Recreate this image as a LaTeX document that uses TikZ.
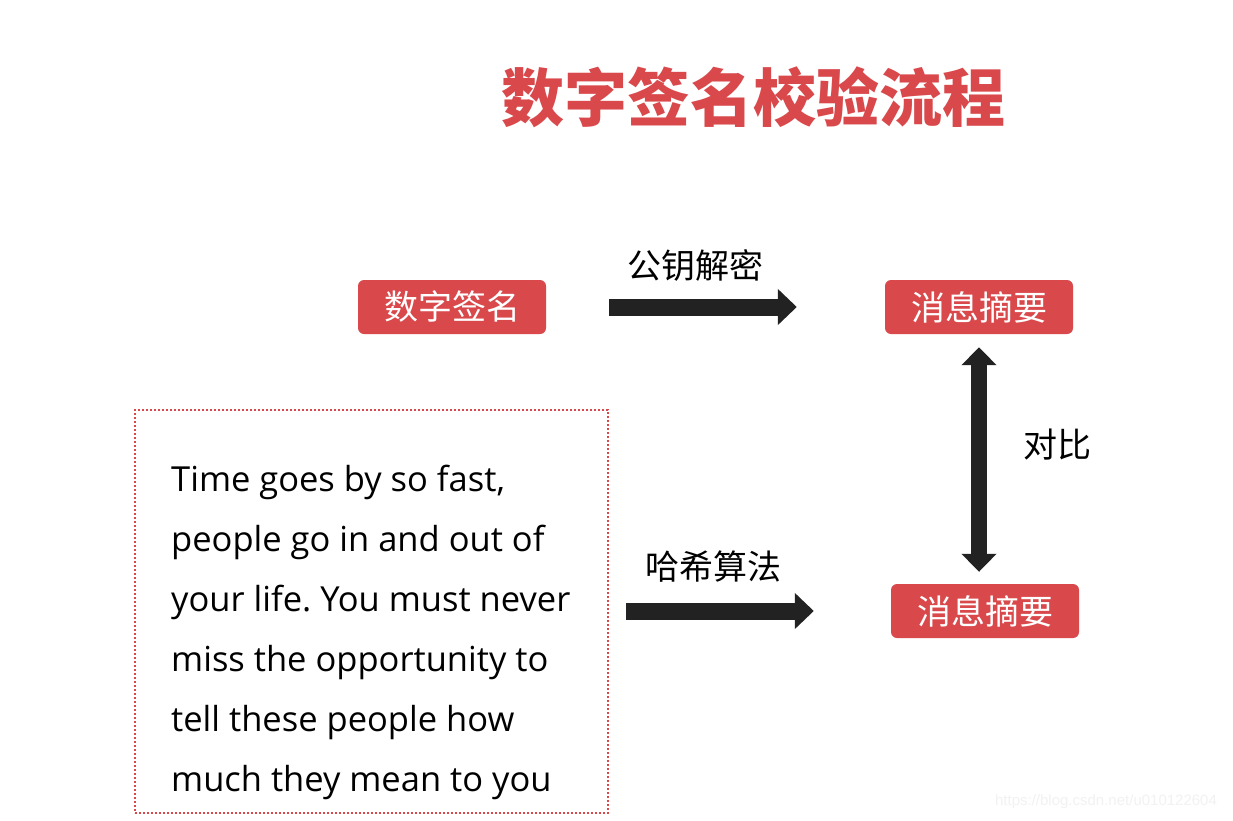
\documentclass[tikz,border=0pt]{standalone}
\usepackage{fontspec}
\setmainfont{Open Sans}
\newfontfamily\cjk{Noto Sans CJK SC}
\usetikzlibrary{positioning,arrows.meta,calc}
\definecolor{slidered}{HTML}{D9484B}
\definecolor{arrowdark}{HTML}{222222}
\frenchspacing
\tikzset{
  redbox/.style={fill=slidered, rounded corners=6pt, minimum width=188pt, minimum height=54pt,
    inner sep=0pt, text=white, font=\cjk\fontsize{34}{34}\selectfont},
  fatarrow/.style={draw=arrowdark, line width=17pt, -{Triangle[width=35pt,length=19pt]}},
  fatboth/.style={draw=arrowdark, line width=16pt,
    {Triangle[width=34pt,length=18pt]}-{Triangle[width=34pt,length=18pt]}},
  steplabel/.style={font=\cjk\fontsize{34}{34}\selectfont, inner sep=0pt},
}

\begin{document}
\begin{tikzpicture}[x=1pt,y=-1pt]
    \useasboundingbox[fill=white] (0,0) rectangle (1233,820);

    % title
    \node[text=slidered, font=\cjk\bfseries\fontsize{63}{63}\selectfont, inner sep=0pt] (title) at (753,97) {数字签名校验流程};

    \node[redbox] (sign) at (452,307) {数字签名};
    \node[redbox] (digestA) at (979,307) {消息摘要};
    \node[redbox] (digestB) at (985,611) {消息摘要};

    % original message
    \node[draw=slidered, line width=2pt, dash pattern=on 2pt off 2pt, minimum width=473pt, minimum height=403pt, inner sep=0pt] (msg) at (371.5,611.5) {};
    \node[anchor=north west, align=left, inner sep=0pt, font=\fontsize{34.5}{60}\selectfont] (msgtext) at (171,465)
      {Time goes by so fast,\\people go in and out of\\your life. You must never\\miss the opportunity to\\tell these people how\\much they mean to you};

    \draw[fatarrow] ([xshift=63pt]sign.east) -- ([xshift=-88pt]digestA.west) coordinate (decend);
    \node[steplabel] (decrypt) at (695,265) {公钥解密};

    \draw[fatarrow] ([xshift=17pt]msg.east |- digestB) -- ([xshift=-77pt]digestB.west) coordinate (hashend);
    \node[steplabel] (hash) at (713,567) {哈希算法};

    \draw[fatboth] ([yshift=-13pt]digestA.south) -- ([yshift=12pt]digestA.south |- digestB.north);
    \node[steplabel] (compare) at (1057,445) {对比};

    \node[text=black!5, font=\fontspec{Liberation Sans}\fontsize{15}{15}\selectfont, inner sep=0pt] (mark) at (1106,802) {https://blog.csdn.net/u010122604};
\end{tikzpicture}
\end{document}
